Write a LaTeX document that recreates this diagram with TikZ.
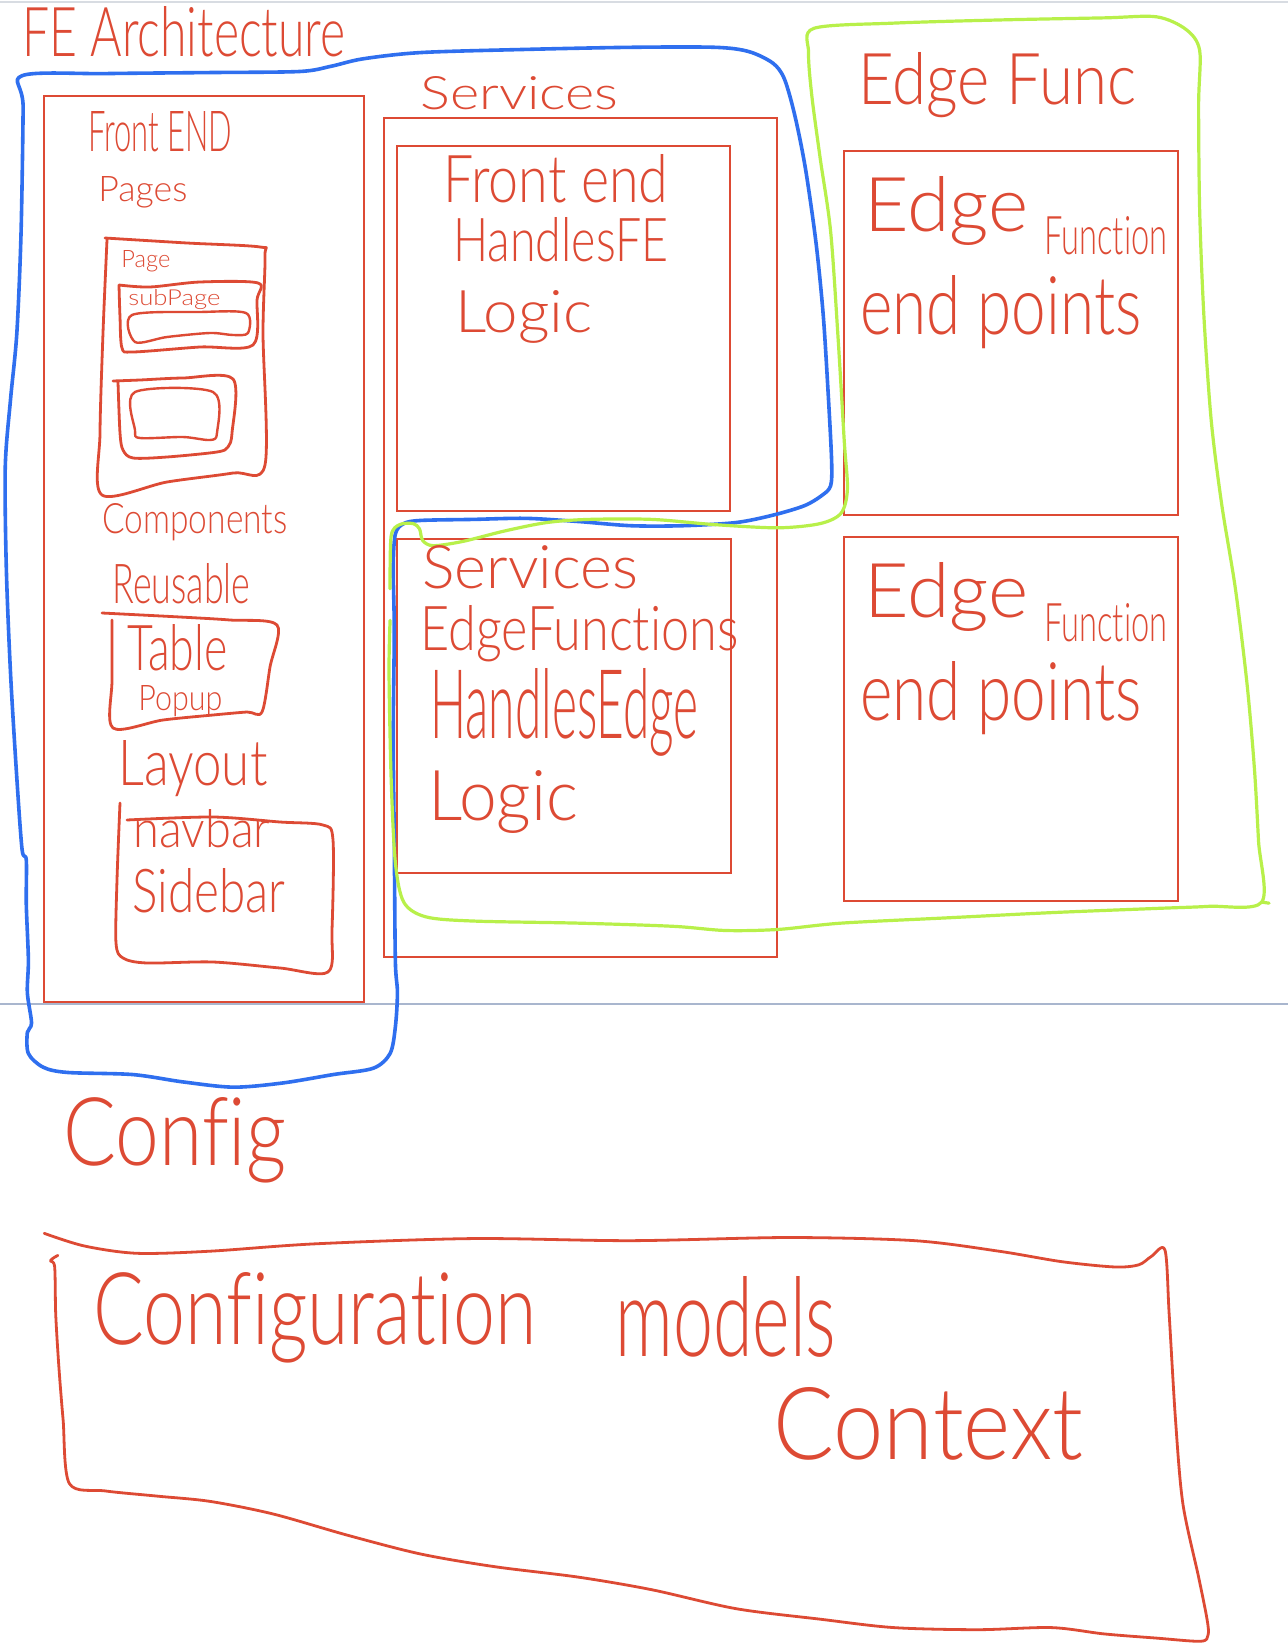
\documentclass[tikz,border=0pt]{standalone}
\usepackage{fontspec}
\setmainfont{Lato Light}[RawFeature={-liga;-clig;-dlig;-calt}]
\usepackage{graphicx}
\definecolor{inkred}{HTML}{DD4A34}
\definecolor{inkblue}{HTML}{2F6FEF}
\definecolor{inkgreen}{HTML}{B8F04A}
\definecolor{rulegrey}{HTML}{A9B6CE}
\definecolor{edgegrey}{HTML}{D8DCE2}
\newlength\pxu
\setlength\pxu{0.5pt}
% hand lettering: text stretched to a given width and height (in pixel units)
\newcommand\hw[3]{\resizebox{#1\pxu}{#2\pxu}{#3}}
\begin{document}
\begin{tikzpicture}[x=0.5pt,y=-0.5pt,
  hand/.style={anchor=base west,inner sep=0pt,text=inkred},
  box/.style={draw=inkred,line width=1.1pt},
  sketch/.style={draw=inkred,line width=1.4pt,line cap=round,line join=round},
  blueink/.style={draw=inkblue,line width=1.8pt,line cap=round,line join=round},
  greenink/.style={draw=inkgreen,line width=1.6pt,line cap=round,line join=round}]
\useasboundingbox (0,0) rectangle (1288,1648);
\fill[white] (0,0) rectangle (1288,1648);

% page edges
\draw[edgegrey,line width=0.8pt] (0,2) -- (1288,2);
\draw[rulegrey,line width=1pt] (0,1004) -- (1288,1004);

% ---------- frames ----------
\draw[box] (44,96) rectangle (364,1002);
\draw[box] (384,118) rectangle (777,957);
\draw[box] (397,146) rectangle (730,511);
\draw[box] (397,539) rectangle (731,873);
\draw[box] (844,151) rectangle (1178,515);
\draw[box] (844,537) rectangle (1178,901);

% ---------- front end pages sketches ----------
% page
\draw[sketch] plot[smooth] coordinates {(105,238) (187,243) (260,247) (265,256) (263,333) (265,465)
  (233,473) (167,482) (102,495) (100,433) (103,333) (107,240)};
% sub page
\draw[sketch] plot[smooth] coordinates {(119,285) (150,287) (200,282) (258,283) (257,300) (253,345)
  (200,347) (133,352) (122,348) (120,317) (119,285)};
\draw[sketch,line width=1.2pt] plot[smooth cycle] coordinates {(132,315) (200,312) (246,313) (248,333)
  (233,335) (210,333) (167,337) (135,342)};
% second block
\draw[sketch] plot[smooth] coordinates {(113,381) (140,380) (183,378) (233,379) (232,433) (228,447)
  (217,452) (167,457) (133,458) (123,450) (120,433) (118,382)};
\draw[sketch,line width=1.2pt] plot[smooth cycle] coordinates {(135,392) (213,392) (217,433) (210,440)
  (183,437) (140,438) (135,430)};
% reusable block
\draw[sketch] plot[smooth] coordinates {(102,613) (180,617) (230,620) (277,625) (270,667) (262,712)
  (247,712) (213,715) (163,720) (113,728) (112,680) (112,620)};
% layout block
\draw[sketch] plot[smooth] coordinates {(127,820) (213,817) (280,822) (323,825) (333,840) (332,930)
  (328,972) (280,968) (213,962) (147,963) (123,958) (116,943) (117,880) (120,803)};

% ---------- group outlines ----------
\begin{scope}[scale=1.0514]
\draw[blueink] plot[smooth cycle] coordinates {(21,72) (100,70) (200,69) (285,68) (315,63) (345,56)
  (400,50) (500,47) (600,45) (680,45) (712,49) (735,60) (746,75) (756,110) (766,160) (776,230)
  (783,300) (788,380) (791,440) (790,462) (782,471) (765,481) (735,490) (700,497) (650,500)
  (600,500) (550,496) (500,493) (450,494) (400,495) (384,498) (376,508) (374,540) (375,600)
  (374,700) (375,800) (376,913) (378,944) (376,977) (371,1002) (355,1016) (317,1022) (269,1030)
  (222,1034) (174,1029) (126,1022) (64,1020) (41,1015) (27,1002) (26,982) (30,973) (26,944)
  (27,913) (25,860) (25,818) (21,808) (16,740) (10,640) (6,540) (5,444) (10,380) (16,317)
  (20,222) (22,102)};
\draw[greenink] plot[smooth] coordinates {(371,560) (372,510) (380,499) (393,498) (399,503)
  (402,514) (412,519) (440,515) (480,505) (520,497) (560,494) (620,494) (680,499) (740,502)
  (780,498) (800,488) (806,465) (803,420) (797,320) (790,220) (780,150) (772,90) (769,50)
  (774,27) (850,22) (950,19) (1050,17) (1100,16) (1128,28) (1141,48) (1140,100) (1141,200)
  (1145,300) (1152,400) (1162,480) (1175,560) (1186,650) (1193,730) (1197,800) (1200,858)
  (1150,862) (1100,864) (1000,868) (900,873) (800,878) (740,884) (690,885) (640,881) (550,878)
  (450,876) (405,872) (384,858) (376,820) (372,740) (370,640) (371,590)};
\draw[greenink] (1200,858) -- (1207,859);
% configuration frame
\draw[sketch] plot[smooth] coordinates {(42,1173) (80,1185) (130,1192) (200,1190) (300,1183)
  (450,1178) (600,1180) (750,1177) (870,1180) (950,1190) (1010,1200) (1060,1205) (1083,1203)
  (1095,1195) (1108,1189) (1112,1250) (1118,1350) (1125,1430) (1140,1500) (1148,1540)
  (1149,1555) (1142,1561) (1100,1558) (1050,1554) (1000,1548) (930,1550) (850,1548) (780,1540)
  (700,1530) (620,1512) (550,1500) (470,1490) (400,1478) (330,1460) (260,1440) (200,1428)
  (150,1423) (100,1418) (66,1411) (60,1350) (56,1300) (53,1250) (52,1205) (48,1199) (55,1194)};
\end{scope}

% ---------- lettering ----------
\node[hand] (title) at (22,57) {\hw{323}{50}{FE Architecture}};

\node[hand] (fe) at (88,152) {\hw{144}{40}{Front END}};
\node[hand] (pages) at (98,202) {\hw{89}{25}{Pages}};
\node[hand] (page) at (121,267) {\hw{49}{17}{Page}};
\node[hand] (subpage) at (128,305) {\hw{92}{16}{subPage}};
\node[hand] (components) at (102,533) {\hw{185}{30}{Components}};
\node[hand] (reusable) at (112,603) {\hw{138}{40}{Reusable}};
\node[hand] (table) at (127,670) {\hw{100}{46}{Table}};
\node[hand] (popup) at (138,710) {\hw{84}{25}{Popup}};
\node[hand] (layout) at (118,785) {\hw{149}{45}{Layout}};
\node[hand] (navbar) at (133,847) {\hw{137}{38}{navbar}};
\node[hand] (sidebar) at (132,912) {\hw{153}{44}{Sidebar}};

\node[hand] (services) at (420,110) {\hw{198}{33}{Services}};
\node[hand] (fend) at (443,203) {\hw{225}{48}{Front end}};
\node[hand] (handfe) at (453,262) {\hw{215}{44}{HandlesFE}};
\node[hand] (logicfe) at (455,332) {\hw{137}{42}{Logic}};

\node[hand] (svc) at (422,588) {\hw{216}{43}{Services}};
\node[hand] (edgefns) at (420,650) {\hw{318}{45}{EdgeFunctions}};
\node[hand] (handedge) at (430,738) {\hw{268}{70}{HandlesEdge}};
\node[hand] (logicedge) at (428,820) {\hw{150}{50}{Logic}};

\node[hand] (edgefunc) at (858,105) {\hw{278}{52}{Edge Func}};
\node[hand] (edgeA) at (864,231) {\hw{164}{55}{Edge}};
\node[hand] (funcA) at (1044,255) {\hw{123}{38}{Function}};
\node[hand] (endA) at (860,334) {\hw{281}{59}{end points}};
\node[hand] (edgeB) at (864,617) {\hw{164}{55}{Edge}};
\node[hand] (funcB) at (1044,641) {\hw{123}{38}{Function}};
\node[hand] (endB) at (860,720) {\hw{281}{59}{end points}};

\node[hand] (config) at (63,1165) {\hw{223}{68}{Config}};
\node[hand] (configuration) at (93,1344) {\hw{443}{72}{Configuration}};
\node[hand] (models) at (615,1356) {\hw{221}{80}{models}};
\node[hand] (context) at (773,1459) {\hw{310}{72}{Context}};
\end{tikzpicture}
\end{document}
